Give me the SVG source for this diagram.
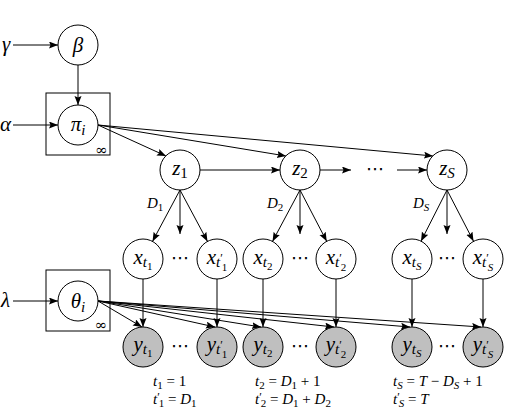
<svg xmlns="http://www.w3.org/2000/svg" width="506" height="408" viewBox="0 0 506 408">
<defs>
<marker id="ah" markerWidth="10" markerHeight="8" refX="9" refY="3.5" orient="auto" markerUnits="userSpaceOnUse">
<path d="M0,0 L9,3.5 L0,7 L1.5,3.5 z" fill="#000"/>
</marker>
</defs>
<style>
.n{fill:#fff;stroke:#000;stroke-width:1}
.g{fill:#bfbfbf;stroke:#000;stroke-width:1}
.p{fill:none;stroke:#000;stroke-width:1}
.e{stroke:#000;stroke-width:1;fill:none;marker-end:url(#ah)}
.t{font-family:"Liberation Serif","DejaVu Serif",serif;font-style:italic;font-size:21px;fill:#000}
.l{font-family:"Liberation Serif","DejaVu Serif",serif;font-style:italic;font-size:15px;fill:#000}
.s{font-size:15px}
.ss{font-size:11px}
.pr{font-size:12px;font-style:normal}
.up{font-style:normal}
.d{font-family:"DejaVu Sans",sans-serif;font-size:18px;fill:#000}
.inf{font-family:"DejaVu Serif",serif;font-size:15px;fill:#000}
</style>
<rect width="506" height="408" fill="#fff"/>

<g id="connectors">
<line class="e" x1="13" y1="45" x2="58" y2="45"/>
<line class="e" x1="13" y1="125" x2="58" y2="125"/>
<line class="e" x1="13" y1="301" x2="58" y2="301"/>
<line class="e" x1="78" y1="65" x2="78" y2="105"/>
<line class="e" x1="98" y1="125" x2="166" y2="156"/>
<line class="e" x1="98" y1="125" x2="286" y2="156"/>
<line class="e" x1="98" y1="125" x2="433" y2="156"/>
<line class="e" x1="200" y1="170" x2="280" y2="170"/>
<line class="e" x1="320" y1="170" x2="351" y2="170"/>
<line class="e" x1="397" y1="170" x2="427" y2="170"/>
<line class="e" x1="180" y1="190" x2="152.5" y2="241.4"/>
<line class="e" x1="180" y1="190" x2="180" y2="234"/>
<line class="e" x1="180" y1="190" x2="207.5" y2="241.4"/>
<line class="e" x1="300" y1="190" x2="272.5" y2="241.4"/>
<line class="e" x1="300" y1="190" x2="300" y2="234"/>
<line class="e" x1="300" y1="190" x2="326.7" y2="241.3"/>
<line class="e" x1="447" y1="190" x2="421" y2="241.2"/>
<line class="e" x1="447" y1="190" x2="447" y2="234"/>
<line class="e" x1="447" y1="190" x2="473.5" y2="241.2"/>
<line class="e" x1="143" y1="279" x2="143" y2="327"/>
<line class="e" x1="217" y1="279" x2="217" y2="327"/>
<line class="e" x1="263" y1="279" x2="263" y2="327"/>
<line class="e" x1="336" y1="279" x2="336" y2="327"/>
<line class="e" x1="412" y1="279" x2="412" y2="327"/>
<line class="e" x1="483" y1="279" x2="483" y2="327"/>
<line class="e" x1="98" y1="301" x2="142" y2="327"/>
<line class="e" x1="98" y1="301" x2="215" y2="327"/>
<line class="e" x1="98" y1="301" x2="261" y2="327"/>
<line class="e" x1="98" y1="301" x2="334" y2="327"/>
<line class="e" x1="98" y1="301" x2="410" y2="327"/>
<line class="e" x1="98" y1="301" x2="481" y2="327"/>
</g>

<g id="hyper">
<text class="t" x="2" y="51">γ</text>
<text class="t" x="0" y="131">α</text>
<text class="t" x="1" y="307">λ</text>
</g>

<g id="beta">
<circle class="n" cx="78" cy="45" r="20"/>
<text class="t" x="78" y="52" text-anchor="middle">β</text>
</g>

<g id="pi">
<rect class="p" x="46" y="93" width="64" height="62"/>
<circle class="n" cx="78" cy="125" r="20"/>
<text class="t" x="78" y="131" text-anchor="middle">π<tspan class="s" dy="4">i</tspan></text>
<text class="inf" x="101.5" y="155" text-anchor="middle">∞</text>
</g>

<g id="theta">
<rect class="p" x="46" y="270" width="64" height="61"/>
<circle class="n" cx="78" cy="301" r="20"/>
<text class="t" x="78" y="308" text-anchor="middle">θ<tspan class="s" dy="4">i</tspan></text>
<text class="inf" x="101" y="330" text-anchor="middle">∞</text>
</g>

<g id="z1">
<circle class="n" cx="180" cy="170" r="20"/>
<text class="t" x="180" y="175" text-anchor="middle">z<tspan class="s up" dy="3">1</tspan></text>
</g>
<g id="z2">
<circle class="n" cx="300" cy="170" r="20"/>
<text class="t" x="300" y="175" text-anchor="middle">z<tspan class="s up" dy="3">2</tspan></text>
</g>
<g id="zS">
<circle class="n" cx="447" cy="170" r="20"/>
<text class="t" x="447" y="175" text-anchor="middle">z<tspan class="s" dy="3">S</tspan></text>
</g>
<text class="d" x="375" y="175" text-anchor="middle">⋯</text>

<g id="dlabels">
<text class="l" x="147" y="208">D<tspan class="ss up" dy="3">1</tspan></text>
<text class="l" x="267" y="208">D<tspan class="ss up" dy="3">2</tspan></text>
<text class="l" x="413" y="208">D<tspan class="ss" dy="3">S</tspan></text>
</g>

<g id="xt1">
<circle class="n" cx="143" cy="259" r="20"/>
<text class="t" x="143" y="264" text-anchor="middle">x<tspan class="s" dy="3">t</tspan><tspan class="ss up" dy="3">1</tspan></text>
</g>
<g id="xt1p">
<circle class="n" cx="217" cy="259" r="20"/>
<text class="t" x="217" y="264" text-anchor="middle">x<tspan class="s" dy="3">t</tspan><tspan class="pr" dy="-5">′</tspan><tspan class="ss up" dx="-1" dy="9">1</tspan></text>
</g>
<g id="xt2">
<circle class="n" cx="263" cy="259" r="20"/>
<text class="t" x="263" y="264" text-anchor="middle">x<tspan class="s" dy="3">t</tspan><tspan class="ss up" dy="3">2</tspan></text>
</g>
<g id="xt2p">
<circle class="n" cx="336" cy="259" r="20"/>
<text class="t" x="336" y="264" text-anchor="middle">x<tspan class="s" dy="3">t</tspan><tspan class="pr" dy="-5">′</tspan><tspan class="ss up" dx="-1" dy="9">2</tspan></text>
</g>
<g id="xtS">
<circle class="n" cx="412" cy="259" r="20"/>
<text class="t" x="412" y="264" text-anchor="middle">x<tspan class="s" dy="3">t</tspan><tspan class="ss" dy="3">S</tspan></text>
</g>
<g id="xtSp">
<circle class="n" cx="483" cy="259" r="20"/>
<text class="t" x="483" y="264" text-anchor="middle">x<tspan class="s" dy="3">t</tspan><tspan class="pr" dy="-5">′</tspan><tspan class="ss" dx="-1" dy="9">S</tspan></text>
</g>
<text class="d" x="180" y="264" text-anchor="middle">⋯</text>
<text class="d" x="300" y="264" text-anchor="middle">⋯</text>
<text class="d" x="447" y="264" text-anchor="middle">⋯</text>

<g id="yt1">
<circle class="g" cx="143" cy="347" r="20"/>
<text class="t" x="143" y="351" text-anchor="middle">y<tspan class="s" dy="3">t</tspan><tspan class="ss up" dy="3">1</tspan></text>
</g>
<g id="yt1p">
<circle class="g" cx="217" cy="347" r="20"/>
<text class="t" x="217" y="351" text-anchor="middle">y<tspan class="s" dy="3">t</tspan><tspan class="pr" dy="-5">′</tspan><tspan class="ss up" dx="-1" dy="9">1</tspan></text>
</g>
<g id="yt2">
<circle class="g" cx="263" cy="347" r="20"/>
<text class="t" x="263" y="351" text-anchor="middle">y<tspan class="s" dy="3">t</tspan><tspan class="ss up" dy="3">2</tspan></text>
</g>
<g id="yt2p">
<circle class="g" cx="336" cy="347" r="20"/>
<text class="t" x="336" y="351" text-anchor="middle">y<tspan class="s" dy="3">t</tspan><tspan class="pr" dy="-5">′</tspan><tspan class="ss up" dx="-1" dy="9">2</tspan></text>
</g>
<g id="ytS">
<circle class="g" cx="412" cy="347" r="20"/>
<text class="t" x="412" y="351" text-anchor="middle">y<tspan class="s" dy="3">t</tspan><tspan class="ss" dy="3">S</tspan></text>
</g>
<g id="ytSp">
<circle class="g" cx="483" cy="347" r="20"/>
<text class="t" x="483" y="351" text-anchor="middle">y<tspan class="s" dy="3">t</tspan><tspan class="pr" dy="-5">′</tspan><tspan class="ss" dx="-1" dy="9">S</tspan></text>
</g>
<text class="d" x="180" y="352" text-anchor="middle">⋯</text>
<text class="d" x="300" y="352" text-anchor="middle">⋯</text>
<text class="d" x="447" y="352" text-anchor="middle">⋯</text>

<g id="notes">
<text class="l" x="153" y="386">t<tspan class="ss up" dy="3">1</tspan><tspan class="up" dy="-3"> = 1</tspan></text>
<text class="l" x="153" y="404">t<tspan class="pr" dy="-3">′</tspan><tspan class="ss up" dx="-1" dy="6">1</tspan><tspan class="up" dy="-3"> = </tspan>D<tspan class="ss up" dy="3">1</tspan></text>
<text class="l" x="255" y="386">t<tspan class="ss up" dy="3">2</tspan><tspan class="up" dy="-3"> = </tspan>D<tspan class="ss up" dy="3">1</tspan><tspan class="up" dy="-3"> + 1</tspan></text>
<text class="l" x="255" y="404">t<tspan class="pr" dy="-3">′</tspan><tspan class="ss up" dx="-1" dy="6">2</tspan><tspan class="up" dy="-3"> = </tspan>D<tspan class="ss up" dy="3">1</tspan><tspan class="up" dy="-3"> + </tspan>D<tspan class="ss up" dy="3">2</tspan></text>
<text class="l" x="393" y="386">t<tspan class="ss" dy="3">S</tspan><tspan class="up" dy="-3"> = </tspan>T<tspan class="up"> − </tspan>D<tspan class="ss" dy="3">S</tspan><tspan class="up" dy="-3"> + 1</tspan></text>
<text class="l" x="393" y="404">t<tspan class="pr" dy="-3">′</tspan><tspan class="ss" dx="-1" dy="6">S</tspan><tspan class="up" dy="-3"> = </tspan>T</text>
</g>
</svg>
